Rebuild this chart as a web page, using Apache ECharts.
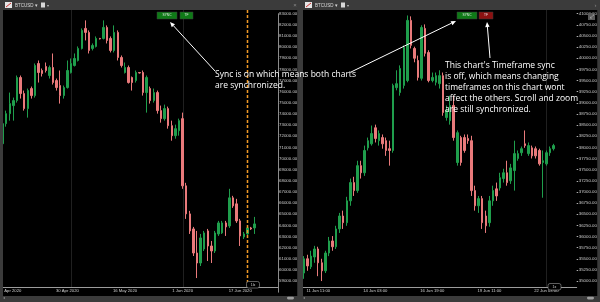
<!DOCTYPE html>
<html>
<head>
<meta charset="utf-8">
<script src="https://cdn.jsdelivr.net/npm/echarts@6/dist/echarts.min.js"></script>
<style>
html, body { margin: 0; padding: 0; background: #3b3b3b; }
#main { width: 600px; height: 302px; }
</style>
</head>
<body>
<div id="main"></div>
<script>
// categories
var months = ['Jan', 'Feb', 'Mar', 'Apr', 'May', 'Jun', 'Jul', 'Aug', 'Sep', 'Oct', 'Nov', 'Dec'];
function pad(n) { return (n < 10 ? '0' : '') + n; }
var leftDates = [];
var rightTimes = [];
for (var i = 0; i < 77; i++) {
    var d = new Date(Date.UTC(2020, 3, 12 + i));
    leftDates.push(d.getUTCDate() + ' ' + months[d.getUTCMonth()] + ' ' + d.getUTCFullYear());
    var h = new Date(Date.UTC(2020, 5, 10, 19 + 4 * i));
    rightTimes.push(h.getUTCDate() + ' ' + months[h.getUTCMonth()] + ' ' + pad(h.getUTCHours()) + ':00');
}

// tick labels
var leftTickLabels = ['14 Apr 2020', '30 Apr 2020', '16 May 2020', '1 Jun 2020', '17 Jun 2020'];
var rightTickLabels = ['11 Jun 11:00', '14 Jun 03:00', '16 Jun 19:00', '19 Jun 11:00', '22 Jun 03:00'];

// period separators and the cursor line
var leftSeparators = ['1 May 2020', '1 Jun 2020'];
var leftCursor = '19 Jun 2020';
var rightSeparators = ['22 Jun 03:00'];

// daily candles, [open, close, low, high]
var leftOHLC = [
    [71330, 73130, 70700, 73310], [73130, 74030, 72860, 74300], [74030, 74930, 73400, 75920],
    [74750, 75200, 73400, 75470], [75200, 77270, 75020, 77450], [77270, 75830, 75380, 77450],
    [75830, 74480, 74300, 76100], [74480, 76100, 73670, 76280], [76280, 75650, 75380, 76460],
    [75650, 78350, 75470, 78530], [78530, 77720, 76820, 78800], [77900, 77630, 77360, 78080],
    [78260, 77900, 77720, 78620], [77450, 78170, 77180, 78350], [78170, 76820, 76640, 79430],
    [77000, 76370, 76100, 77180], [76550, 75650, 74930, 77900], [75650, 76370, 75380, 76550],
    [76370, 77900, 76280, 78800], [77720, 78530, 77630, 78980], [78350, 78980, 78260, 79430],
    [78800, 79880, 78710, 80060], [79880, 81500, 79790, 81680], [81680, 81320, 80600, 82400],
    [81320, 79700, 79430, 81500], [79880, 80150, 79700, 80330], [80060, 80780, 79970, 80960],
    [80780, 80735, 80690, 80825], [80780, 81770, 80690, 82400], [81770, 80600, 80330, 81950],
    [80780, 79700, 79520, 80960], [79700, 81320, 79520, 81950], [81320, 79070, 78800, 81500],
    [79070, 78350, 78170, 79250], [77720, 78170, 77630, 78620], [78170, 76820, 76730, 78350],
    [77270, 76820, 76100, 77360], [77000, 77720, 76820, 77900], [77720, 77675, 77630, 77765],
    [77720, 75920, 75650, 77900], [75920, 77270, 74120, 77450], [76280, 75200, 74930, 76460],
    [75200, 75920, 75020, 76280], [75920, 74300, 74030, 76100], [74300, 73580, 73220, 74750],
    [73580, 74480, 73400, 74840], [74480, 72950, 72680, 74660], [72950, 72050, 71600, 73400],
    [72050, 72680, 71780, 73040], [72500, 73400, 72050, 73580], [73580, 67550, 67280, 74120],
    [67550, 65030, 64580, 67820], [65030, 63500, 63230, 65300], [63680, 61520, 61250, 63860],
    [61520, 60620, 59270, 63500], [60620, 62870, 60350, 63230], [61880, 63320, 61700, 63500],
    [63500, 62150, 60800, 63680], [62150, 61700, 60620, 62600], [61700, 63320, 61520, 63500],
    [63230, 64220, 63050, 64400], [63320, 64220, 63230, 64400], [64220, 63860, 63050, 64400],
    [63950, 66470, 63770, 67280], [66470, 65750, 65570, 66650], [65930, 64400, 64220, 66380],
    [64400, 63050, 62150, 64580], [62960, 63230, 62780, 63410], [63230, 63770, 63050, 63950],
    [63770, 63680, 63590, 63860], [63770, 64130, 63230, 64760]
];

// 4 hour candles, [open, close, low, high]
var rightOHLC = [
    [35180, 35500, 35050, 35560], [35500, 35340, 35230, 35590], [35320, 35560, 35270, 35680],
    [35540, 35720, 35410, 35790], [35720, 35410, 35110, 35770], [35410, 35230, 35000, 35500],
    [35230, 35630, 35180, 35680], [35630, 35900, 35560, 35990], [35900, 35770, 35680, 36010],
    [35770, 36170, 35720, 36240], [36170, 36460, 36080, 36530], [36460, 36310, 36170, 36580],
    [36310, 36800, 36240, 36890], [36800, 37210, 36690, 37300], [37210, 37030, 36910, 37340],
    [37030, 37590, 36980, 37700], [37590, 37430, 37300, 37700], [37430, 37930, 37360, 38040],
    [37990, 38150, 37930, 38220], [38080, 38310, 38040, 38490], [38440, 38200, 38110, 38510],
    [38150, 38310, 38040, 38380], [38220, 38080, 37970, 38290], [38150, 37930, 37810, 38220],
    [37970, 37930, 37590, 38150], [37930, 39390, 37880, 39430], [39340, 39430, 39280, 39730],
    [39230, 39770, 39160, 39840], [39390, 40240, 39320, 40290], [39500, 40850, 39460, 40960],
    [40850, 40290, 40220, 40940], [40220, 40000, 39910, 40260], [39950, 39570, 39500, 40060],
    [39550, 40690, 39500, 40740], [40670, 40110, 40040, 40760], [40130, 39500, 39460, 40180],
    [39500, 39570, 39460, 39680], [39460, 39610, 39390, 39680], [39430, 39610, 39320, 39730],
    [39610, 38780, 38710, 39680], [38670, 38830, 38600, 38940], [38600, 38940, 38510, 39160],
    [38940, 38220, 38150, 39160], [37660, 38330, 37590, 38380], [38220, 37660, 37590, 38260],
    [38220, 37930, 37880, 38290], [38200, 38150, 38080, 38290], [38150, 37030, 36910, 38260],
    [37030, 36690, 36580, 37140], [36690, 36850, 36530, 36910], [36850, 36310, 36170, 36910],
    [36460, 36240, 36080, 36580], [36310, 36800, 36220, 36910], [36800, 37030, 36690, 37140],
    [37070, 36910, 36800, 37210], [37090, 37320, 37030, 37430], [37300, 37430, 37210, 37520],
    [37430, 37210, 37140, 37700], [37250, 37540, 37180, 37630], [37480, 37860, 37030, 38150],
    [37750, 37860, 37700, 37930], [37880, 37970, 37810, 38020], [38080, 38040, 37990, 38380],
    [37860, 38040, 37810, 38110], [37990, 37810, 37750, 38040], [37970, 37810, 37750, 38020],
    [37930, 37630, 37590, 37970], [37660, 37700, 36870, 37930], [37630, 37880, 37590, 37930],
    [37880, 37970, 37810, 38020], [37970, 38040, 37930, 38080]
];

var bg = '#3b3b3b';
var up = '#1f9e4c';
var down = '#e97a7b';

function xAxisFor(idx, data, ticks) {
    var pick = function (i, v) { return ticks.indexOf(v) >= 0; };
    return {
        type: 'category', gridIndex: idx, data: data, boundaryGap: true, offset: -5.2,
        axisLine: { lineStyle: { color: '#9c9c9c', width: 1 } },
        axisTick: { alignWithLabel: true, interval: pick, length: 2, lineStyle: { color: '#bdbdbd' } },
        axisLabel: {
            interval: pick, color: '#cfcfcf', fontSize: 4.2, margin: 2, fontFamily: 'Liberation Sans',
            // the first date sits under the panel edge, only its month and year show
            formatter: function (v) { return v === '14 Apr 2020' ? '{cut|Apr 2020}' : v; },
            rich: { cut: { fontSize: 4.2, color: '#cfcfcf', padding: [0, 0, 0, 6] } }
        },
        splitLine: { show: false }
    };
}

function yAxisFor(idx, min, max, step, isLeft) {
    return {
        type: 'value', gridIndex: idx, position: 'right', min: min, max: max, interval: step,
        axisLine: { show: isLeft, lineStyle: { color: '#8c8c8c' } },
        axisTick: { show: !isLeft, length: 1.5, lineStyle: { color: '#b0b0b0' } },
        axisLabel: {
            color: '#cacaca', fontSize: 4.4, margin: isLeft ? 1 : 2, showMinLabel: false,
            fontFamily: 'Liberation Sans',
            formatter: function (v) { return v.toFixed(2); }
        },
        splitLine: { show: false }
    };
}

function arrow(x1, y1, x2, y2) {
    var a = Math.atan2(y2 - y1, x2 - x1), L = 5, w = 2.2;
    var bx = x2 - L * Math.cos(a), by = y2 - L * Math.sin(a);
    var px = -Math.sin(a) * w, py = Math.cos(a) * w;
    return [
        { type: 'line', z: 60, silent: true, shape: { x1: x1, y1: y1, x2: bx, y2: by }, style: { stroke: '#fff', lineWidth: 1 } },
        { type: 'polygon', z: 60, silent: true, shape: { points: [[x2, y2], [bx + px, by + py], [bx - px, by - py]] }, style: { fill: '#fff' } }
    ];
}

function button(x, w, fill, label) {
    return [
        { type: 'rect', z: 60, shape: { x: x, y: 12, width: w, height: 7 }, style: { fill: fill, stroke: '#3a3a3a', lineWidth: 0.5 } },
        { type: 'text', z: 61, x: x + w / 2, y: 15.5, style: { text: label, fill: '#e8e8e8', fontSize: 3.2, align: 'center', verticalAlign: 'middle', fontFamily: 'Liberation Sans' } }
    ];
}

function tabTitle(x) {
    return [
        { type: 'rect', z: 60, shape: { x: x + 2, y: 2, width: 7, height: 6 }, style: { fill: '#e6e6e6' } },
        { type: 'line', z: 61, shape: { x1: x + 3, y1: 7, x2: x + 8, y2: 3 }, style: { stroke: '#d03030', lineWidth: 1 } },
        { type: 'text', z: 60, x: x + 12, y: 5.5, style: { text: 'BTCUSD ▾', fill: '#d8d8d8', fontSize: 4.5, verticalAlign: 'middle', fontFamily: 'Liberation Sans' } },
        { type: 'rect', z: 60, shape: { x: x + 38, y: 2.5, width: 4, height: 5 }, style: { fill: '#d8d8d8' } },
        { type: 'text', z: 60, x: x + 44, y: 5.5, style: { text: '▾', fill: '#bdbdbd', fontSize: 4, verticalAlign: 'middle' } }
    ];
}

var note = { fill: '#ffffff', fontSize: 8.5, lineHeight: 11, fontFamily: 'Open Sans' };

var elements = [
    { type: 'rect', z: -10, silent: true, shape: { x: 3, y: 10, width: 294.5, height: 286 }, style: { fill: '#000' } },
    { type: 'rect', z: -10, silent: true, shape: { x: 303, y: 10, width: 294.5, height: 286 }, style: { fill: '#000' } },
    { type: 'rect', z: 50, silent: true, shape: { x: 0, y: 0, width: 3, height: 302 }, style: { fill: bg } },
    { type: 'rect', z: 50, silent: true, shape: { x: 297.5, y: 0, width: 5.5, height: 302 }, style: { fill: bg } },
    { type: 'rect', z: 50, silent: true, shape: { x: 597.5, y: 0, width: 2.5, height: 302 }, style: { fill: bg } },
    { type: 'rect', z: 50, silent: true, shape: { x: 0, y: 0, width: 600, height: 10 }, style: { fill: bg } },
    { type: 'rect', z: 50, silent: true, shape: { x: 0, y: 296, width: 600, height: 6 }, style: { fill: bg } },
    { type: 'text', z: 60, x: 295, y: 5, style: { text: '×', fill: '#8a8a8a', fontSize: 6, align: 'center', verticalAlign: 'middle' } },
    { type: 'text', z: 60, x: 595.5, y: 5, style: { text: '›', fill: '#8a8a8a', fontSize: 6, align: 'center', verticalAlign: 'middle' } },
    // scrollbars
    { type: 'rect', z: 60, shape: { x: 287, y: 296.8, width: 7, height: 2.6, r: 1.3 }, style: { fill: '#9d9d9d' } },
    { type: 'rect', z: 60, shape: { x: 587, y: 296.8, width: 7, height: 2.6, r: 1.3 }, style: { fill: '#9d9d9d' } },
    { type: 'text', z: 60, x: 3, y: 298, style: { text: '◂', fill: '#8a8a8a', fontSize: 4, verticalAlign: 'middle' } },
    { type: 'text', z: 60, x: 303, y: 298, style: { text: '◂', fill: '#8a8a8a', fontSize: 4, verticalAlign: 'middle' } },
    // small zoom boxes near the time axes
    { type: 'rect', z: 60, shape: { x: 246.5, y: 281.5, width: 13, height: 6.5, r: 2 }, style: { fill: '#000', stroke: '#9c9c9c', lineWidth: 0.6 } },
    { type: 'text', z: 61, x: 253, y: 284.8, style: { text: '1lx', fill: '#cfcfcf', fontSize: 3.6, align: 'center', verticalAlign: 'middle' } },
    { type: 'rect', z: 60, shape: { x: 548, y: 283.5, width: 13, height: 6.5, r: 2 }, style: { fill: '#000', stroke: '#9c9c9c', lineWidth: 0.6 } },
    { type: 'text', z: 61, x: 554.5, y: 286.8, style: { text: '1x', fill: '#cfcfcf', fontSize: 3.6, align: 'center', verticalAlign: 'middle' } },
    // expand icon right panel
    { type: 'rect', z: 60, shape: { x: 588, y: 13, width: 7, height: 7 }, style: { fill: '#5a5a5a' } },
    { type: 'text', z: 61, x: 591.5, y: 16.5, style: { text: '⤢', fill: '#e0e0e0', fontSize: 5, align: 'center', verticalAlign: 'middle' } },
    // notes
    { type: 'text', z: 60, x: 215, y: 69, style: Object.assign({ text: 'Sync is on which means both charts\nare synchronized.' }, note) },
    { type: 'text', z: 60, x: 445, y: 60, style: Object.assign({ text: "This chart's Timeframe sync\nis off, which means changing\ntimeframes on this chart wont\naffect the others. Scroll and zoom\nare still synchronized." }, note) }
]
    .concat(tabTitle(3), tabTitle(303))
    .concat(button(157, 20, '#0f7a17', 'SYNC'), button(180, 13, '#0f7a17', 'TF'))
    .concat(button(457, 20, '#0f7a17', 'SYNC'), button(479, 14, '#8c1111', 'TF'))
    .concat(arrow(215, 71, 170, 22), arrow(351, 72, 456, 21), arrow(490, 58, 487, 22));

var myChart = echarts.init(document.getElementById('main'));

var option = {
    backgroundColor: bg,
    animation: false,
    textStyle: { fontFamily: 'Liberation Sans' },
    grid: [
        { left: 0.8, top: 13.7, width: 277.2, height: 278.5 },
        { left: 302.2, top: 13.7, width: 277.2, height: 278.5 }
    ],
    xAxis: [xAxisFor(0, leftDates, leftTickLabels), xAxisFor(1, rightTimes, rightTickLabels)],
    yAxis: [yAxisFor(0, 58000, 83000, 1000, true), yAxisFor(1, 34750, 41000, 250, false)],
    series: [
        {
            type: 'candlestick', xAxisIndex: 0, yAxisIndex: 0, data: leftOHLC, barWidth: 2,
            itemStyle: { color: up, color0: down, borderColor: up, borderColor0: down, borderWidth: 1 }
        },
        {
            type: 'candlestick', xAxisIndex: 1, yAxisIndex: 1, data: rightOHLC, barWidth: 2,
            itemStyle: { color: up, color0: down, borderColor: up, borderColor0: down, borderWidth: 1 }
        }
    ],
    graphic: { elements: elements }
};

myChart.setOption(option);

// vertical separator and cursor lines, placed through the category axes
function vlineAt(axisIndex, cat, color, width, dash, z) {
    var x = Math.round(myChart.convertToPixel({ xAxisIndex: axisIndex }, cat)) + 0.5;
    return {
        type: 'line', z: z, silent: true,
        shape: { x1: x, y1: 10, x2: x, y2: 287 },
        style: { stroke: color, lineWidth: width, lineDash: dash }
    };
}
var lines = [];
leftSeparators.forEach(function (c) { lines.push(vlineAt(0, c, '#202020', 1, null, -5)); });
rightSeparators.forEach(function (c) { lines.push(vlineAt(1, c, '#202020', 1, null, -5)); });
lines.push(vlineAt(0, leftCursor, '#f29a26', 1.5, [3, 2], 5));

myChart.setOption({ graphic: { elements: elements.concat(lines) } });
</script>
</body>
</html>
